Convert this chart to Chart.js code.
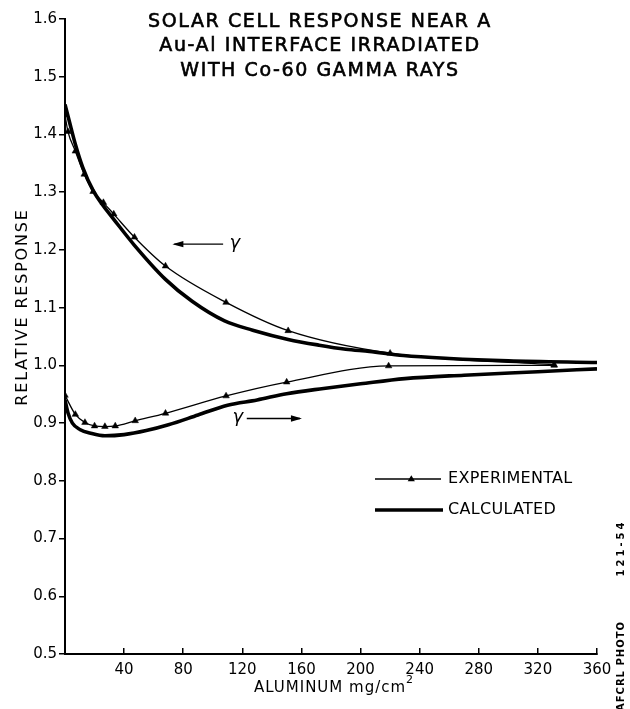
<!DOCTYPE html>
<html>
<head>
<meta charset="utf-8">
<script src="https://cdn.jsdelivr.net/npm/chart.js@4.4.1/dist/chart.umd.min.js"></script>
<style>
html,body{margin:0;padding:0;background:#fff;}
#wrap{width:630px;height:709px;position:relative;}
canvas{display:block;}
</style>
</head>
<body>
<div id="wrap"><canvas id="c" width="630" height="709"></canvas></div>
<script>
// ---------- data ----------
const titleLines = ['SOLAR CELL RESPONSE NEAR A', 'Au-Al INTERFACE IRRADIATED', 'WITH Co-60 GAMMA RAYS'];
const xAxisTitle = 'ALUMINUM mg/cm';
const xAxisTitleSup = '2';
const yAxisTitle = 'RELATIVE RESPONSE';
const seriesNames = ['EXPERIMENTAL', 'CALCULATED'];
const gammaLabel = 'γ';
const sideLabels = ['121-54', 'AFCRL PHOTO'];

const xTickValues = [0, 40, 80, 120, 160, 200, 240, 280, 320, 360];
const xTickLabels = ['', '40', '80', '120', '160', '200', '240', '280', '320', '360'];
const yTickValues = [0.5, 0.6, 0.7, 0.8, 0.9, 1.0, 1.1, 1.2, 1.3, 1.4, 1.5, 1.6];
const yTickLabels = ['0.5', '0.6', '0.7', '0.8', '0.9', '1.0', '1.1', '1.2', '1.3', '1.4', '1.5', '1.6'];

// experimental (thin line with triangles)
const expUpperX = [0, 2, 7, 13, 19, 26, 33, 47, 68, 109, 151, 220, 331];
const expUpperY = [1.434, 1.405, 1.371, 1.331, 1.301, 1.282, 1.262, 1.222, 1.172, 1.109, 1.060, 1.021, 1.001];
const expLowerX = [0, 7, 13.5, 20, 27, 34, 47.5, 68, 109, 150, 219, 331];
const expLowerY = [0.948, 0.915, 0.901, 0.895, 0.894, 0.895, 0.904, 0.917, 0.947, 0.971, 0.999, 1.000];

// calculated (thick line)
const calcUpperX = [0, 3, 7, 12, 19, 26, 33, 47, 68, 86, 108, 127, 151, 172, 190, 206, 229, 260, 300, 360];
const calcUpperY = [1.452, 1.422, 1.383, 1.343, 1.303, 1.276, 1.253, 1.208, 1.149, 1.111, 1.077, 1.061, 1.045, 1.035, 1.028, 1.024, 1.017, 1.012, 1.008, 1.005];
const calcLowerX = [0, 2, 5, 10, 18, 27, 40, 55, 70, 90, 110, 130, 150, 175, 200, 230, 270, 320, 360];
const calcLowerY = [0.940, 0.918, 0.900, 0.889, 0.882, 0.878, 0.880, 0.887, 0.897, 0.914, 0.931, 0.940, 0.951, 0.960, 0.968, 0.977, 0.983, 0.989, 0.994];

// ---------- helpers ----------
const pts = (xs, ys) => xs.map((x, i) => ({x: x, y: ys[i]}));
const FONT = '"DejaVu Sans", "Liberation Sans", sans-serif';
const INK = '#000';

const thinStyle = {
  borderColor: INK, backgroundColor: INK, borderWidth: 1.3,
  pointStyle: 'triangle', pointRadius: 3.8, pointBackgroundColor: INK,
  pointBorderColor: INK, pointBorderWidth: 0.5, pointHoverRadius: 3.8,
  cubicInterpolationMode: 'monotone', fill: false
};
const thickStyle = {
  borderColor: INK, backgroundColor: INK, borderWidth: 3.6,
  pointRadius: 0, pointHoverRadius: 0,
  cubicInterpolationMode: 'monotone', fill: false
};

// ---------- decorations plugin ----------
const decor = {
  id: 'decor',
  afterDraw(chart, args, o) {
    const ctx = chart.ctx;
    const xs = chart.scales.x, ys = chart.scales.y;
    ctx.save();
    ctx.fillStyle = INK;
    ctx.strokeStyle = INK;

    // title
    ctx.font = '19px ' + FONT;
    ctx.textAlign = 'center';
    ctx.textBaseline = 'middle';
    ctx.letterSpacing = '1.6px';
    ctx.lineWidth = 0.6;
    titleLines.forEach((t, i) => {
      ctx.fillText(t, o.titleX, o.titleY[i]);
      ctx.strokeText(t, o.titleX, o.titleY[i]);
    });

    // y-axis title
    ctx.save();
    ctx.font = '16px ' + FONT;
    ctx.letterSpacing = '1.8px';
    ctx.translate(o.yTitleX, o.yTitleY);
    ctx.rotate(-Math.PI / 2);
    ctx.fillText(yAxisTitle, 0, 0);
    ctx.restore();

    // x-axis title with superscript
    ctx.font = '15px ' + FONT;
    ctx.letterSpacing = '1px';
    ctx.textAlign = 'left';
    const wMain = ctx.measureText(xAxisTitle).width;
    ctx.font = '11px ' + FONT;
    const wSup = ctx.measureText(xAxisTitleSup).width;
    const x0 = o.xTitleX - (wMain + wSup) / 2;
    ctx.font = '15px ' + FONT;
    ctx.fillText(xAxisTitle, x0, o.xTitleY);
    ctx.font = '11px ' + FONT;
    ctx.fillText(xAxisTitleSup, x0 + wMain, o.xTitleY - 8);

    // legend
    ctx.letterSpacing = '0.3px';
    ctx.font = '16px ' + FONT;
    ctx.textBaseline = 'middle';
    const L = o.legend;
    const dsThin = chart.data.datasets[0], dsThick = chart.data.datasets[2];
    ctx.lineWidth = dsThin.borderWidth;
    ctx.beginPath(); ctx.moveTo(L.x1, L.y[0]); ctx.lineTo(L.x2, L.y[0]); ctx.stroke();
    const tx = L.x1 + (L.x2 - L.x1) * 0.55, r = 3.8;
    ctx.beginPath();
    ctx.moveTo(tx, L.y[0] - r); ctx.lineTo(tx + r * 0.95, L.y[0] + r * 0.6); ctx.lineTo(tx - r * 0.95, L.y[0] + r * 0.6);
    ctx.closePath(); ctx.fill();
    ctx.lineWidth = dsThick.borderWidth;
    ctx.beginPath(); ctx.moveTo(L.x1, L.y[1]); ctx.lineTo(L.x2 + 2, L.y[1]); ctx.stroke();
    ctx.fillText(dsThin.label, L.tx, L.y[0]);
    ctx.fillText(dsThick.label, L.tx, L.y[1]);

    // gamma arrows
    ctx.letterSpacing = '0px';
    ctx.lineWidth = 1.4;
    o.arrows.forEach(a => {
      const xa = xs.getPixelForValue(a.from), xb = xs.getPixelForValue(a.to);
      const y = ys.getPixelForValue(a.y);
      ctx.beginPath(); ctx.moveTo(xa, y); ctx.lineTo(xb, y); ctx.stroke();
      const dir = Math.sign(xb - xa);
      ctx.beginPath();
      ctx.moveTo(xb + dir * 2, y); ctx.lineTo(xb - dir * 9, y - 3.2); ctx.lineTo(xb - dir * 9, y + 3.2);
      ctx.closePath(); ctx.fill();
      ctx.font = 'italic 18px ' + FONT;
      ctx.textAlign = 'center';
      ctx.fillText(gammaLabel, xs.getPixelForValue(a.g), y - 1);
    });

    // side labels (rotated)
    ctx.font = 'bold 10px ' + FONT;
    ctx.textAlign = 'center';
    sideLabels.forEach((t, i) => {
      ctx.save();
      ctx.letterSpacing = o.side.spacing[i];
      ctx.translate(o.side.x, o.side.y[i]);
      ctx.rotate(-Math.PI / 2);
      ctx.fillText(t, 0, 0);
      ctx.restore();
    });
    ctx.restore();
  }
};

const ctx = document.getElementById('c').getContext('2d');
new Chart(ctx, {
  type: 'line',
  data: {
    datasets: [
      Object.assign({label: seriesNames[0], data: pts(expUpperX, expUpperY)}, thinStyle),
      Object.assign({label: seriesNames[0], data: pts(expLowerX, expLowerY)}, thinStyle),
      Object.assign({label: seriesNames[1], data: pts(calcUpperX, calcUpperY)}, thickStyle),
      Object.assign({label: seriesNames[1], data: pts(calcLowerX, calcLowerY)}, thickStyle)
    ]
  },
  options: {
    responsive: false,
    animation: false,
    devicePixelRatio: 1,
    events: [],
    layout: {padding: {top: 19, right: 33, left: 0, bottom: 0}},
    plugins: {
      legend: {display: false},
      title: {display: false},
      tooltip: {enabled: false},
      decor: {
        titleX: 320, titleY: [22, 46, 71],
        yTitleX: 23, yTitleY: 307,
        xTitleX: 334, xTitleY: 688,
        legend: {x1: 375, x2: 441, tx: 448, y: [479, 510]},
        arrows: [
          {from: 107, to: 74, y: 1.21, g: 115},
          {from: 123, to: 159, y: 0.908, g: 117}
        ],
        side: {x: 621, y: [548, 666], spacing: ['3px', '1px']}
      }
    },
    scales: {
      x: {
        type: 'linear', min: 0, max: 360,
        afterBuildTicks: s => { s.ticks = xTickValues.map(v => ({value: v})); },
        afterFit: s => { s.height = 55; },
        ticks: {
          autoSkip: false, maxRotation: 0, padding: 13, color: INK,
          font: {family: FONT, size: 15},
          callback: v => xTickLabels[xTickValues.indexOf(v)]
        },
        grid: {drawOnChartArea: false, drawTicks: true, tickLength: -6, color: INK, lineWidth: 1.5},
        border: {display: true, color: INK, width: 2}
      },
      y: {
        type: 'linear', min: 0.5, max: 1.6,
        afterBuildTicks: s => { s.ticks = yTickValues.map(v => ({value: v})); },
        afterFit: s => { s.width = 65; },
        ticks: {
          autoSkip: false, padding: 2, color: INK,
          font: {family: FONT, size: 15},
          callback: v => yTickLabels[yTickValues.findIndex(t => Math.abs(t - v) < 1e-6)]
        },
        grid: {drawOnChartArea: false, drawTicks: true, tickLength: 6, color: INK, lineWidth: 1.5},
        border: {display: true, color: INK, width: 2}
      }
    }
  },
  plugins: [decor]
});
</script>
</body>
</html>
